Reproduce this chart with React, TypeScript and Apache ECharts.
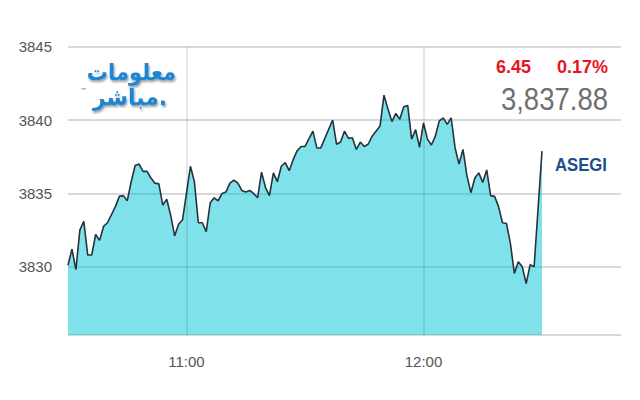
import React, { useEffect, useRef } from "react";
import * as echarts from "echarts";

// minutes after 10:30 for each recorded point
const minutes = [
  0, 1, 2, 3, 4, 5, 6, 7, 8, 9, 10, 12, 13, 14, 15, 16, 17, 18, 19, 20,
  21, 22, 23, 24, 25, 26, 27, 28, 29, 31, 32, 33, 34, 35, 36, 37, 38, 39, 40, 41,
  42, 43, 44, 45, 46, 47, 48, 49, 50, 51, 52, 53, 54, 55, 56, 57, 58, 59, 60, 62,
  63, 64, 67, 68, 69, 70, 71, 72, 73, 74, 75, 76, 77, 79, 80, 81, 82, 83, 84, 85,
  86, 87, 88, 89, 90, 91, 92, 93, 94, 95, 96, 97, 98, 99, 100, 101, 102, 103, 104, 105,
  106, 107, 108, 109, 110, 111, 112, 113, 114, 115, 116, 117, 118, 120,
];
const prices = [
  3830.1, 3831.2, 3829.8, 3832.5, 3833.1, 3830.8, 3830.8, 3832.2, 3831.8, 3832.75,
  3833.0, 3834.1, 3834.8, 3834.85, 3834.5, 3835.8, 3836.9, 3837.0, 3836.5, 3836.5,
  3836.05, 3835.7, 3835.65, 3834.2, 3834.6, 3833.5, 3832.1, 3832.9, 3833.2, 3836.85,
  3835.8, 3833.0, 3833.0, 3832.4, 3834.35, 3834.7, 3834.5, 3835.0, 3835.1, 3835.7,
  3835.9, 3835.7, 3835.2, 3835.1, 3835.2, 3835.0, 3834.7, 3836.45, 3835.4, 3834.85,
  3836.4, 3835.8, 3836.85, 3837.1, 3836.55, 3837.3, 3837.9, 3838.2, 3838.2, 3839.25,
  3838.1, 3838.1, 3840.0, 3838.35, 3838.5, 3839.25, 3838.75, 3838.8, 3838.0, 3838.5,
  3838.2, 3838.35, 3838.9, 3839.6, 3841.7, 3840.75, 3839.9, 3840.45, 3840.05, 3840.9,
  3841.0, 3838.7, 3839.35, 3838.15, 3839.8, 3838.7, 3838.3, 3838.9, 3839.95, 3840.15,
  3839.7, 3840.15, 3838.1, 3837.0, 3838.0, 3836.2, 3835.05, 3836.05, 3836.4, 3835.75,
  3836.6, 3834.85, 3834.8, 3834.1, 3833.0, 3832.95, 3831.6, 3829.55, 3830.35, 3830.0,
  3828.85, 3830.15, 3830.0, 3837.88,
];
const startMinute = 630; // 10:30
const hourTicks = [660, 720]; // 11:00, 12:00
const indexName = "ASEGI";
const lastValue = "3,837.88";
const change = "6.45";
const changePct = "0.17%";

function fmtTime(m: number) {
  const h = Math.floor(m / 60);
  const mm = m % 60;
  return `${h}:${mm < 10 ? "0" + mm : mm}`;
}

export default function App() {
  const ref = useRef<HTMLDivElement>(null);
  useEffect(() => {
    if (!ref.current) return;
    const chart = echarts.init(ref.current, null, { renderer: "svg" });
    const data = minutes.map((m, i) => [startMinute + m, prices[i]]);
    const shadow = {
      textShadowColor: "rgba(0,0,0,0.4)",
      textShadowOffsetX: 1,
      textShadowOffsetY: 2,
      textShadowBlur: 2,
    };
    chart.setOption({
      animation: false,
      backgroundColor: "#ffffff",
      grid: { left: 68, right: 19, top: 46.7, bottom: 65 },
      xAxis: {
        type: "value",
        min: 630,
        max: 770,
        interval: 30,
        axisLine: { show: true, lineStyle: { color: "#d8d8d8", width: 1 } },
        axisTick: { show: false },
        splitLine: { show: false },
        axisLabel: {
          margin: 19,
          color: "#555",
          fontSize: 15,
          fontFamily: "'Liberation Sans', Arial, sans-serif",
          formatter: (v: number) => (hourTicks.indexOf(v) >= 0 ? fmtTime(v) : ""),
        },
      },
      yAxis: {
        type: "value",
        min: 3825.35,
        max: 3845,
        splitNumber: 4,
        minInterval: 5,
        maxInterval: 5,
        axisLine: { show: false },
        axisTick: { show: false },
        splitLine: { show: true, lineStyle: { color: "#cccccc", width: 1.5 } },
        axisLabel: {
          margin: 16,
          color: "#555",
          fontSize: 15,
          showMinLabel: false,
          fontFamily: "'Liberation Sans', Arial, sans-serif",
          formatter: (v: number) => String(Math.round(v)),
        },
      },
      series: [
        {
          type: "line",
          data,
          symbol: "none",
          lineStyle: { color: "#26323c", width: 1.6 },
          areaStyle: { color: "rgba(0,196,214,0.5)", opacity: 1 },
          markLine: {
            silent: true,
            symbol: "none",
            label: { show: false },
            lineStyle: { color: "rgba(0,0,0,0.12)", type: "solid", width: 1.5 },
            data: hourTicks.map((t) => ({ xAxis: t })),
          },
        },
      ],
      graphic: [
        {
          type: "text",
          x: 531,
          y: 67,
          style: {
            text: change,
            fill: "#e8141c",
            align: "right",
            verticalAlign: "middle",
            font: "bold 18px 'Liberation Sans', Arial, sans-serif",
          },
        },
        {
          type: "text",
          x: 608,
          y: 67,
          style: {
            text: changePct,
            fill: "#e8141c",
            align: "right",
            verticalAlign: "middle",
            font: "bold 18px 'Liberation Sans', Arial, sans-serif",
          },
        },
        {
          type: "text",
          x: 608,
          y: 99,
          scaleX: 0.86,
          style: {
            text: lastValue,
            fill: "#6e6e6e",
            align: "right",
            verticalAlign: "middle",
            font: "32px 'Liberation Sans', Arial, sans-serif",
          },
        },
        {
          type: "text",
          x: 607,
          y: 165,
          scaleX: 0.88,
          style: {
            text: indexName,
            fill: "#1b4f8c",
            align: "right",
            verticalAlign: "middle",
            font: "bold 19px 'Liberation Sans', Arial, sans-serif",
          },
        },
        {
          type: "text",
          x: 176,
          y: 72,
          scaleX: 0.92,
          style: {
            text: "معلومات",
            fill: "#1e86d4",
            align: "right",
            verticalAlign: "middle",
            font: "bold 23px 'DejaVu Sans', sans-serif",
            ...shadow,
          },
        },
        {
          type: "text",
          x: 167,
          y: 97,
          scaleX: 0.95,
          style: {
            text: "مباشر.",
            fill: "#1e86d4",
            align: "right",
            verticalAlign: "middle",
            font: "bold 23px 'DejaVu Sans', sans-serif",
            ...shadow,
          },
        },
        {
          type: "text",
          x: 80,
          y: 91,
          style: {
            text: "™",
            fill: "#1e86d4",
            verticalAlign: "middle",
            font: "7px 'DejaVu Sans', sans-serif",
          },
        },
      ],
    });
    return () => chart.dispose();
  }, []);
  return (
    <div
      ref={ref}
      style={{ position: "fixed", left: 0, top: 0, width: 640, height: 400 }}
    />
  );
}
